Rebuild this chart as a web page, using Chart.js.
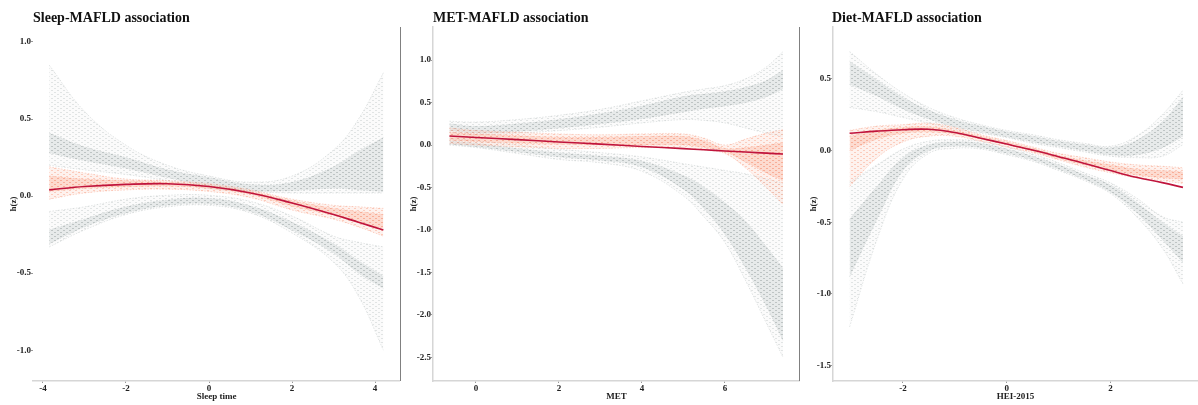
<!DOCTYPE html>
<html>
<head>
<meta charset="utf-8">
<script src="https://cdn.jsdelivr.net/npm/chart.js@4.4.1/dist/chart.umd.min.js"></script>
<style>
  body { margin: 0; background: #fff; width: 1198px; height: 405px; position: relative; overflow: hidden; }
  canvas { position: absolute; top: 0; }
  .ttl { position: absolute; top: 10px; font: bold 14px/16px "Liberation Serif", serif; color: #111; white-space: nowrap; }
  .sep { position: absolute; top: 27px; width: 1px; height: 354px; background: #808080; }
</style>
</head>
<body>
<canvas id="c1" width="400" height="405" style="left:0"></canvas>
<canvas id="c2" width="400" height="405" style="left:400px"></canvas>
<canvas id="c3" width="398" height="405" style="left:800px"></canvas>
<div class="ttl" style="left:33px">Sleep-MAFLD association</div>
<div class="ttl" style="left:433px">MET-MAFLD association</div>
<div class="ttl" style="left:832px">Diet-MAFLD association</div>
<div class="sep" style="left:400px"></div>
<div class="sep" style="left:799px"></div>
<script>
// ---- Sleep time ----
var sleepX = [-3.85, -3, -2, -1, 0, 1, 2, 3, 3.6, 4.2];
var sleepMean = [0.04, 0.062, 0.076, 0.08, 0.062, 0.02, -0.045, -0.12, -0.17, -0.22];
var sleepPink = [
  [0.19, 0.15, 0.11, 0.10, 0.08, 0.04, -0.02, -0.06, -0.07, -0.08],
  [0.13, 0.11, 0.10, 0.09, 0.07, 0.03, -0.03, -0.08, -0.10, -0.12],
  [0.03, 0.05, 0.06, 0.065, 0.05, 0.01, -0.065, -0.125, -0.17, -0.21],
  [-0.02, 0.02, 0.04, 0.045, 0.03, -0.01, -0.09, -0.15, -0.20, -0.26]
];
var sleepGrayUp = [
  [0.85, 0.55, 0.33, 0.2, 0.13, 0.09, 0.13, 0.3, 0.5, 0.8],
  [0.41, 0.32, 0.25, 0.17, 0.12, 0.075, 0.09, 0.19, 0.29, 0.38],
  [0.28, 0.23, 0.18, 0.12, 0.065, 0.035, 0.035, 0.05, 0.04, 0.03],
  [0.2, 0.17, 0.14, 0.1, 0.05, 0.03, 0.02, 0.02, 0.02, 0.02]
];
var sleepGrayLow = [
  [-0.1, -0.07, -0.02, 0.005, 0.005, -0.035, -0.13, -0.26, -0.3, -0.33],
  [-0.22, -0.15, -0.07, -0.025, -0.015, -0.065, -0.17, -0.31, -0.42, -0.52],
  [-0.31, -0.2, -0.11, -0.06, -0.05, -0.1, -0.22, -0.37, -0.5, -0.6],
  [-0.33, -0.22, -0.12, -0.07, -0.06, -0.11, -0.24, -0.43, -0.65, -1.0]
];
var sleepXTicks = [-4, -2, 0, 2, 4];
var sleepYTicks = [-1, -0.5, 0, 0.5, 1];

// ---- MET ----
var metX = [-0.64, 0, 1, 2, 3, 4, 5, 5.5, 6, 6.5, 7, 7.4];
var metMean = [0.106, 0.089, 0.063, 0.036, 0.01, -0.017, -0.043, -0.056, -0.07, -0.083, -0.096, -0.106];
var metPink = [
  [0.2, 0.17, 0.15, 0.13, 0.12, 0.13, 0.13, 0.08, 0.0, 0.07, 0.14, 0.18],
  [0.15, 0.13, 0.11, 0.09, 0.09, 0.1, 0.1, 0.05, -0.04, -0.03, 0.0, 0.03],
  [0.06, 0.04, 0.02, 0.01, 0.0, 0.0, 0.0, -0.03, -0.08, -0.2, -0.33, -0.42],
  [0.02, 0.0, -0.02, -0.04, -0.04, -0.03, -0.04, -0.06, -0.1, -0.27, -0.5, -0.7]
];
var metGrayUp = [
  [0.28, 0.27, 0.3, 0.35, 0.42, 0.52, 0.62, 0.66, 0.7, 0.78, 0.92, 1.1],
  [0.25, 0.22, 0.25, 0.3, 0.37, 0.46, 0.57, 0.6, 0.63, 0.68, 0.76, 0.88],
  [0.17, 0.14, 0.16, 0.2, 0.25, 0.31, 0.39, 0.43, 0.46, 0.5, 0.57, 0.66],
  [0.15, 0.12, 0.14, 0.17, 0.21, 0.26, 0.3, 0.29, 0.26, 0.2, 0.14, 0.1]
];
var metGrayLow = [
  [0.08, 0.05, 0.0, -0.05, -0.09, -0.14, -0.22, -0.26, -0.3, -0.34, -0.4, -0.45],
  [0.05, 0.02, -0.04, -0.09, -0.13, -0.19, -0.36, -0.5, -0.68, -0.9, -1.2, -1.45],
  [0.01, -0.02, -0.08, -0.14, -0.18, -0.26, -0.52, -0.75, -1.05, -1.45, -1.9, -2.3],
  [0.0, -0.03, -0.1, -0.17, -0.21, -0.31, -0.6, -0.85, -1.15, -1.6, -2.1, -2.5]
];
var metXTicks = [0, 2, 4, 6];
var metYTicks = [-2.5, -2, -1.5, -1, -0.5, 0, 0.5, 1];

// ---- HEI-2015 ----
var dietX = [-3.03, -2.5, -2, -1.5, -1, -0.5, 0, 0.5, 1, 1.5, 2, 2.5, 3, 3.4];
var dietMean = [0.12, 0.135, 0.145, 0.148, 0.125, 0.085, 0.045, 0.003, -0.043, -0.09, -0.14, -0.187, -0.224, -0.257];
var dietPink = [
  [0.14, 0.17, 0.18, 0.19, 0.16, 0.11, 0.07, 0.025, -0.02, -0.05, -0.08, -0.1, -0.11, -0.12],
  [0.1, 0.14, 0.16, 0.165, 0.14, 0.1, 0.06, 0.015, -0.035, -0.07, -0.1, -0.13, -0.14, -0.15],
  [0.0, 0.08, 0.12, 0.13, 0.115, 0.08, 0.04, -0.005, -0.055, -0.1, -0.14, -0.17, -0.19, -0.2],
  [-0.25, -0.05, 0.06, 0.1, 0.1, 0.065, 0.025, -0.015, -0.065, -0.115, -0.155, -0.19, -0.21, -0.23]
];
var dietGrayUp = [
  [0.69, 0.53, 0.4, 0.3, 0.23, 0.18, 0.14, 0.11, 0.075, 0.05, 0.03, 0.1, 0.25, 0.42],
  [0.62, 0.49, 0.37, 0.28, 0.215, 0.17, 0.13, 0.1, 0.065, 0.04, 0.02, 0.07, 0.2, 0.37],
  [0.46, 0.38, 0.29, 0.22, 0.165, 0.13, 0.095, 0.06, 0.03, 0.0, -0.03, -0.03, 0.02, 0.1],
  [0.3, 0.27, 0.23, 0.19, 0.15, 0.12, 0.09, 0.05, 0.02, -0.01, -0.04, -0.05, -0.04, 0.04]
];
var dietGrayLow = [
  [-0.22, -0.1, 0.01, 0.065, 0.075, 0.065, 0.025, -0.025, -0.085, -0.155, -0.225, -0.33, -0.46, -0.5],
  [-0.48, -0.25, -0.05, 0.04, 0.06, 0.05, 0.01, -0.04, -0.1, -0.17, -0.24, -0.36, -0.5, -0.6],
  [-0.88, -0.48, -0.14, 0.0, 0.03, 0.02, -0.02, -0.065, -0.13, -0.2, -0.29, -0.43, -0.62, -0.78],
  [-1.23, -0.62, -0.2, -0.02, 0.015, 0.01, -0.03, -0.075, -0.14, -0.21, -0.3, -0.46, -0.68, -0.93]
];
var dietXTicks = [-2, 0, 2];
var dietYTicks = [-1.5, -1, -0.5, 0, 0.5];

var FONT = 'Liberation Serif';

// small repeating texture so the bands read as many thin dotted draws
function texture(bg, dot) {
  var c = document.createElement('canvas');
  c.width = 6; c.height = 4;
  var g = c.getContext('2d');
  g.fillStyle = bg; g.fillRect(0, 0, 6, 4);
  g.fillStyle = dot;
  g.fillRect(0, 0, 2, 1);
  g.fillRect(3, 2, 2, 1);
  return g.createPattern(c, 'repeat');
}
var grayFaint = texture('rgba(215,220,220,0.1)', 'rgba(175,183,183,0.35)');
var grayDense = texture('rgba(196,202,202,0.4)', 'rgba(150,160,160,0.5)');
var pinkFaint = texture('rgba(252,190,170,0.2)', 'rgba(248,160,130,0.45)');
var pinkDense = texture('rgba(250,175,150,0.45)', 'rgba(244,145,115,0.6)');
var grayFills = [grayFaint, grayDense, grayFaint];
var pinkFills = [pinkFaint, pinkDense, pinkFaint];

function pts(xs, ys) {
  return ys.map(function (v, i) { return {x: xs[i], y: v}; });
}

// one band = a stack of lines, each filled down to the next one
function band(xs, rows, line, fills, order) {
  return rows.map(function (r, i) {
    return {
      data: pts(xs, r),
      borderColor: line, borderWidth: 0.7, borderDash: [1.5, 1.5],
      backgroundColor: fills[i] || 'transparent',
      fill: i < rows.length - 1 ? '+1' : false,
      pointRadius: 0, tension: 0.4, order: order
    };
  });
}

function panel(id, xs, mean, pink, up, low, xr, yr, xt, yt, xTitle, yLine) {
  var sets = [{
    data: pts(xs, mean), borderColor: '#c0143c', borderWidth: 1.6,
    pointRadius: 0, tension: 0.4, fill: false, order: 0
  }];
  sets = sets.concat(band(xs, pink, 'rgba(248,150,120,0.55)', pinkFills, 1));
  sets = sets.concat(band(xs, up, 'rgba(165,175,175,0.45)', grayFills, 2));
  sets = sets.concat(band(xs, low, 'rgba(165,175,175,0.45)', grayFills, 3));

  new Chart(document.getElementById(id), {
    type: 'line',
    data: {datasets: sets},
    options: {
      responsive: false, animation: false, devicePixelRatio: 1,
      layout: {padding: {top: 27, left: 0, right: 0, bottom: 0}},
      plugins: {legend: {display: false}, tooltip: {enabled: false}},
      scales: {
        x: {
          type: 'linear', min: xr[0], max: xr[1],
          afterBuildTicks: function (s) { s.ticks = xt.map(function (v) { return {value: v}; }); },
          afterFit: function (s) { s.height = 24; },
          border: {display: true, color: '#d6d6d6', width: 1.5},
          grid: {drawOnChartArea: false, drawTicks: true, tickLength: 2, color: '#999'},
          ticks: {padding: 0, color: '#222', maxRotation: 0, font: {family: FONT, weight: 'bold', size: 9},
                  callback: function (v) { return String(v); }},
          title: {display: true, text: xTitle, color: '#222', padding: {top: 0, bottom: 3},
                  font: {family: FONT, weight: 'bold', size: 9}}
        },
        y: {
          min: yr[0], max: yr[1],
          afterBuildTicks: function (s) { s.ticks = yt.map(function (v) { return {value: v}; }); },
          afterFit: function (s) { s.width = 33; },
          border: {display: yLine, color: '#d6d6d6', width: 1.5},
          grid: {drawOnChartArea: false, drawTicks: true, tickLength: 2, color: '#999'},
          ticks: {padding: 0, color: '#222', font: {family: FONT, weight: 'bold', size: 9},
                  callback: function (v) { return v.toFixed(1); }},
          title: {display: true, text: 'h(z)', color: '#222', padding: {top: 8, bottom: 0},
                  font: {family: FONT, weight: 'bold', size: 9}}
        }
      }
    }
  });
}

panel('c1', sleepX, sleepMean, sleepPink, sleepGrayUp, sleepGrayLow,
      [-4.24, 4.6], [-1.2, 1.097], sleepXTicks, sleepYTicks, 'Sleep time', false);
panel('c2', metX, metMean, metPink, metGrayUp, metGrayLow,
      [-1.036, 7.81], [-2.78, 1.39], metXTicks, metYTicks, 'MET', true);
panel('c3', dietX, dietMean, dietPink, dietGrayUp, dietGrayLow,
      [-3.35, 3.69], [-1.607, 0.861], dietXTicks, dietYTicks, 'HEI-2015', true);
</script>
</body>
</html>
